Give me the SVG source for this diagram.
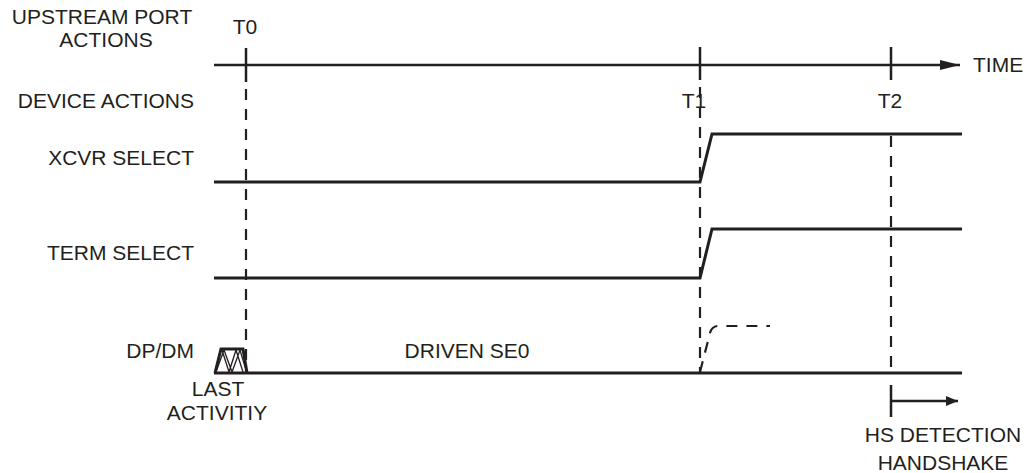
<svg xmlns="http://www.w3.org/2000/svg" width="1027" height="473" viewBox="0 0 1027 473">
<style>
text{font-family:"Liberation Sans",Arial,sans-serif;font-size:21px;fill:#231f20}
.r{text-anchor:end}
.m{text-anchor:middle}
.sig{fill:none;stroke:#231f20;stroke-width:3}
.tick{fill:none;stroke:#231f20;stroke-width:2.5}
.dash{fill:none;stroke:#231f20;stroke-width:2.2;stroke-dasharray:11 9}
.hatch{fill:none;stroke:#231f20;stroke-width:1.3}
</style>
<defs>
<marker id="ah" markerWidth="12" markerHeight="10" refX="12" refY="5" orient="auto" markerUnits="userSpaceOnUse">
<path d="M0,0 L12,5 L0,10 Z" fill="#231f20"/>
</marker>
<marker id="ah2" markerWidth="20" markerHeight="10" refX="20" refY="5" orient="auto" markerUnits="userSpaceOnUse">
<path d="M0,0 L20,5 L0,10 Z" fill="#231f20"/>
</marker>
</defs>
<g id="labels">
<text class="m" x="102" y="24">UPSTREAM PORT</text>
<text class="m" x="106" y="47">ACTIONS</text>
<text class="r" x="194" y="108">DEVICE ACTIONS</text>
<text class="r" x="194" y="165">XCVR SELECT</text>
<text class="r" x="194" y="260">TERM SELECT</text>
<text class="r" x="194" y="358">DP/DM</text>
<text x="973" y="72">TIME</text>
</g>
<g id="connectors">
<line class="tick" x1="214" y1="65" x2="960" y2="65" marker-end="url(#ah2)"/>
<line class="tick" x1="246" y1="48" x2="246" y2="82"/>
<line class="dash" x1="246" y1="89" x2="246" y2="372"/>
<line class="tick" x1="700" y1="47" x2="700" y2="80"/>
<line class="dash" x1="700" y1="87" x2="700" y2="372"/>
<line class="tick" x1="891" y1="47" x2="891" y2="80"/>
<line class="dash" x1="891" y1="136" x2="891" y2="370"/>
</g>
<g id="t0"><text class="m" x="245" y="34">T0</text></g>
<g id="t1"><text class="m" x="694" y="108">T1</text></g>
<g id="t2"><text class="m" x="890" y="108">T2</text></g>
<g id="xcvr-select">
<path class="sig" d="M214,182 L700,182 L712,134 L962,134"/>
</g>
<g id="term-select">
<path class="sig" d="M214,278 L700,278 L712,229 L962,229"/>
</g>
<g id="dpdm">
<path class="sig" d="M214,373 L962,373"/>
<path class="sig" stroke-width="2" d="M215,373 L221,349 L243,349 L247,373"/>
<path class="hatch" d="M216,372 L224,350 L232,372 L240,350 L246,370 M222,350 L229,372 L236,350 L243,372"/>
<path class="dash" stroke-dasharray="12 10" d="M700,372 L710,333 Q712,326 718,326 L770,326"/>
<text class="m" x="467" y="358">DRIVEN SE0</text>
<text class="m" x="218" y="396">LAST</text>
<text class="m" x="217" y="420">ACTIVITIY</text>
</g>
<g id="hs-detection">
<line class="tick" x1="891" y1="385" x2="891" y2="417"/>
<line class="tick" x1="891" y1="401" x2="958" y2="401" marker-end="url(#ah)"/>
<text class="m" x="943" y="442">HS DETECTION</text>
<text class="m" x="943" y="470">HANDSHAKE</text>
</g>
</svg>
